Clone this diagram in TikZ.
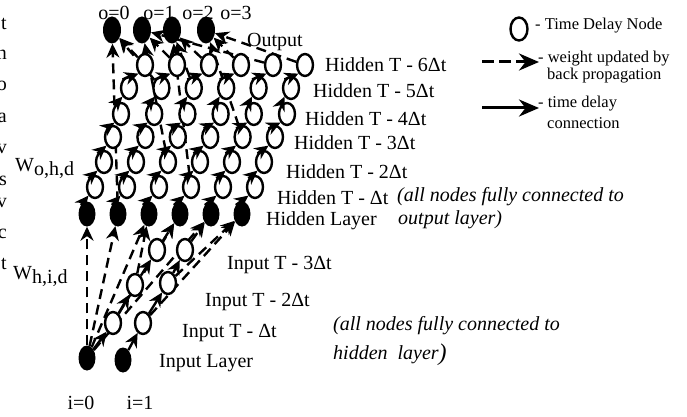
\documentclass[tikz,border=0pt]{standalone}
\usepackage{fontspec}
\setmainfont{Liberation Serif}
\usetikzlibrary{shapes.geometric,arrows.meta,backgrounds}
\begin{document}
\begin{tikzpicture}[x=1pt,y=-1pt,
  tdn/.style={ellipse,draw,line width=2.4pt,fill=white,minimum width=16pt,minimum height=22pt,inner sep=0pt},
  fnode/.style={ellipse,fill=black,minimum width=17pt,minimum height=25pt,inner sep=0pt},
  onode/.style={ellipse,fill=black,minimum width=18pt,minimum height=27pt,inner sep=0pt},
  tip/.style={-{Stealth[length=14pt,width=13pt]}},
  tdarrow/.style={line width=2.4pt,tip},
  bparrow/.style={line width=2.4pt,dash pattern=on 10pt off 6pt,tip},
  lbl/.style={font=\fontsize{20}{24}\selectfont,anchor=west,inner sep=0pt},
  ilbl/.style={font=\fontsize{20}{24}\selectfont\itshape,anchor=west,inner sep=0pt},
  lgd/.style={font=\fontsize{16.5}{19}\selectfont,anchor=west,inner sep=0pt},
  frag/.style={font=\fontsize{20}{24}\selectfont,anchor=east,inner sep=0pt},
  wlbl/.style={font=\fontsize{20}{24}\selectfont,anchor=west,inner sep=0pt},
]
\useasboundingbox (0,0) rectangle (687,417);

% left margin fragments (cut off by the page edge, as in the reference)
\node[frag] (f1) at (7,24) {t};
\node[frag] (f2) at (7,55) {n};
\node[frag] (f3) at (7,86) {o};
\node[frag] (f4) at (7,118) {a};
\node[frag] (f5) at (7,149) {v};
\node[frag] (f6) at (7,181) {s};
\node[frag] (f7) at (7,203) {v};
\node[frag] (f8) at (7,234) {c};
\node[frag] (f9) at (7,264) {t};

% output nodes
\node[onode] (o0) at (112,30) {};
\node[onode] (o1) at (142,30) {};
\node[onode] (o2) at (172,30) {};
\node[onode] (o3) at (206,30) {};
\node[font=\fontsize{20}{24}\selectfont,inner sep=0pt] (lo0) at (114,13) {o=0};
\node[font=\fontsize{20}{24}\selectfont,inner sep=0pt] (lo1) at (159,13) {o=1};
\node[font=\fontsize{20}{24}\selectfont,inner sep=0pt] (lo2) at (198,13) {o=2};
\node[font=\fontsize{20}{24}\selectfont,inner sep=0pt] (lo3) at (236,13) {o=3};
\node[lbl] (lout) at (247,42) {Output};

% hidden layer
\foreach \k in {0,...,5} {
  \pgfmathsetmacro\xx{87+31*\k}
  \node[fnode] (h0\k) at (\xx,214) {};
}
\foreach \j/\y/\xa/\xb in {1/187/95/255,2/162/104/264,3/137/113/275,4/114/121/287,5/88/129/291,6/65/145/305} {
  \foreach \k in {0,...,5} {
    \pgfmathsetmacro\xx{\xa+(\xb-\xa)*\k/5}
    \node[tdn] (h\j\k) at (\xx,\y) {};
  }
}

% input nodes
\node[fnode] (in0) at (87,358) {};
\node[fnode] (in1) at (123,360) {};
\node[tdn] (d10) at (113,323) {};
\node[tdn] (d20) at (135,285) {};
\node[tdn] (d30) at (157,250) {};
\node[tdn] (d11) at (143,323) {};
\node[tdn] (d21) at (168,283) {};
\node[tdn] (d31) at (185,250) {};

% dashed (back propagation) connections, behind the nodes
\begin{pgfonlayer}{background}
  \foreach \t in {h00,h01,h02,h04} \draw[bparrow] (in0) -- (\t);
  \draw[bparrow] (d11) -- (h05);
  \draw[bparrow] (d10) -- (h03);
  \draw[bparrow] (d31) -- (h04);
  \draw[bparrow] (d30) -- (h03);
  \draw[bparrow] (d20) -- (h02);
  \draw[bparrow] (d21) -- (h05);
  \draw[bparrow] (h01) -- (o0);
  \draw[bparrow] (h60) -- (o0);
  \draw[bparrow] (h61) -- (o1);
  \draw[bparrow] (h62) -- (o2);
  \draw[bparrow] (h63) -- (o3);
  \draw[bparrow] (h65) -- (o3);
  \draw[bparrow] (h64) -- (o1);
  \draw[bparrow] (h22) -- (o1);
  \draw[bparrow] (h13) -- (o2);
  \draw[bparrow] (h34) -- (o3);
  \draw[bparrow] (h51) -- (o0);
  \draw[bparrow] (h52) -- (o2);
\end{pgfonlayer}

% time delay connections
\foreach \j in {0,...,5} {
  \pgfmathtruncatemacro\jn{\j+1}
  \foreach \k in {0,...,5} {
    \draw[tdarrow] (h\j\k.north west) -- (h\jn\k.south west);
  }
}
\draw[tdarrow] (in0) -- (d10);
\draw[tdarrow] (d10) -- (d20);
\draw[tdarrow] (d20) -- (d30);
\draw[tdarrow] (in1) -- (d11);
\draw[tdarrow] (d11) -- (d21);
\draw[tdarrow] (d21) -- (d31);

% hidden labels
\node[lbl] (l6) at (325,65) {Hidden T - 6Δt};
\node[lbl] (l5) at (313,91) {Hidden T - 5Δt};
\node[lbl] (l4) at (305,119) {Hidden T - 4Δt};
\node[lbl] (l3) at (294,143) {Hidden T - 3Δt};
\node[lbl] (l2) at (286,172) {Hidden T - 2Δt};
\node[lbl] (l1) at (277,198) {Hidden T - Δt};
\node[lbl] (l0) at (266,221) {Hidden Layer};
\node[ilbl] (n1a) at (397,197) {(all nodes fully connected to};
\node[ilbl] (n1b) at (398,220) {output layer)};

% input labels
\node[lbl] (li3) at (227,265) {Input T - 3Δt};
\node[lbl] (li2) at (205,302) {Input T - 2Δt};
\node[lbl] (li1) at (182,333) {Input T - Δt};
\node[lbl] (li0) at (159,363) {Input Layer};
\node[ilbl] (n2a) at (333,326) {(all nodes fully connected to};
\node[ilbl] (n2b) at (333,355) {hidden\ \ layer\rlap{\raisebox{-1pt}{\fontsize{24}{24}\selectfont)}}};
\node[font=\fontsize{20}{24}\selectfont,inner sep=0pt] (li0l) at (81,403) {i=0};
\node[font=\fontsize{20}{24}\selectfont,inner sep=0pt] (li1l) at (140,403) {i=1};

% weight labels
\node[wlbl] (wo) at (15,168) {W\raisebox{-4pt}{o,h,d}};
\node[wlbl] (wh) at (13,276) {W\raisebox{-4pt}{h,i,d}};

% legend
\node[tdn,minimum width=17pt,minimum height=23pt] (lg0) at (519,29) {};
\node[lgd] (lg0t) at (535,26) {- Time Delay Node};
\coordinate (ba) at (482,62);
\coordinate (bb) at (539,62);
\draw[line width=3pt,dash pattern=on 12pt off 5pt,-{Stealth[length=20pt,width=17pt]}] (ba) -- (bb);
\node[lgd] (lg1t) at (538,59) {- weight updated by};
\node[lgd] (lg1u) at (547,76) {back propagation};
\coordinate (ta) at (482,108);
\coordinate (tb) at (539,108);
\draw[line width=3pt,-{Stealth[length=20pt,width=17pt]}] (ta) -- (tb);
\node[lgd] (lg2t) at (538,104) {- time delay};
\node[lgd] (lg2u) at (547,123) {connection};
\end{tikzpicture}
\end{document}
